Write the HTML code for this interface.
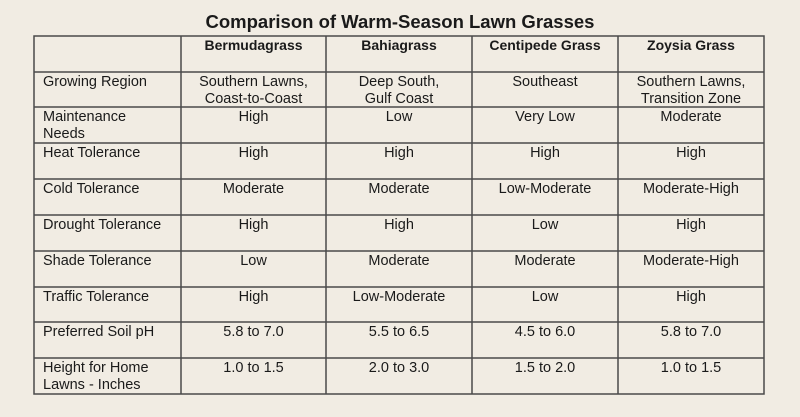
<!DOCTYPE html>
<html><head><style>
body{margin:0;width:800px;height:417px;background:#f1ece3;font-family:"Liberation Sans",Arial,sans-serif;color:#1a1a1a;position:relative;overflow:hidden}
.t{position:absolute;top:11px;left:0;width:800px;text-align:center;font-weight:bold;font-size:18.5px}
svg{position:absolute;left:0;top:0}
.c{position:absolute;font-size:14.5px;line-height:17px;text-align:center}
.l{text-align:left}
.b{font-weight:bold;font-size:14px}
</style></head><body>
<div class="t">Comparison of Warm-Season Lawn Grasses</div>
<svg width="800" height="417">
<g stroke="#4a4a4a" stroke-width="1.5" fill="none">
<rect x="34" y="36" width="730" height="358"/>
<line x1="181" y1="36" x2="181" y2="394"/><line x1="326" y1="36" x2="326" y2="394"/><line x1="472" y1="36" x2="472" y2="394"/><line x1="618" y1="36" x2="618" y2="394"/>
<line x1="34" y1="72" x2="764" y2="72"/><line x1="34" y1="107" x2="764" y2="107"/><line x1="34" y1="143" x2="764" y2="143"/><line x1="34" y1="179" x2="764" y2="179"/><line x1="34" y1="215" x2="764" y2="215"/><line x1="34" y1="251" x2="764" y2="251"/><line x1="34" y1="287" x2="764" y2="287"/><line x1="34" y1="322" x2="764" y2="322"/><line x1="34" y1="358" x2="764" y2="358"/>
</g></svg>
<div id="r"></div>
<script>
var rows=[["",["Bermudagrass"],["Bahiagrass"],["Centipede Grass"],["Zoysia Grass"]],
["Growing Region","Southern Lawns,<br>Coast-to-Coast","Deep South,<br>Gulf Coast","Southeast","Southern Lawns,<br>Transition Zone"],
["Maintenance<br>Needs","High","Low","Very Low","Moderate"],
["Heat Tolerance","High","High","High","High"],
["Cold Tolerance","Moderate","Moderate","Low-Moderate","Moderate-High"],
["Drought Tolerance","High","High","Low","High"],
["Shade Tolerance","Low","Moderate","Moderate","Moderate-High"],
["Traffic Tolerance","High","Low-Moderate","Low","High"],
["Preferred Soil pH","5.8 to 7.0","5.5 to 6.5","4.5 to 6.0","5.8 to 7.0"],
["Height for Home<br>Lawns - Inches","1.0 to 1.5","2.0 to 3.0","1.5 to 2.0","1.0 to 1.5"]];
var ys=[36,72,107,143,179,215,251,287,322,358],xs=[34,181,326,472,618,764],h="";
rows.forEach(function(r,i){r.forEach(function(t,j){
var cls="c"+(j==0?" l":"")+(i==0?" b":"");
var left=j==0?xs[0]+9:xs[j],w=j==0?140:xs[j+1]-xs[j];
h+='<div class="'+cls+'" style="left:'+left+'px;width:'+w+'px;top:'+(ys[i]+(i==0?1:2))+'px">'+t+'</div>';});});
document.getElementById("r").innerHTML=h;
</script>
</body></html>
